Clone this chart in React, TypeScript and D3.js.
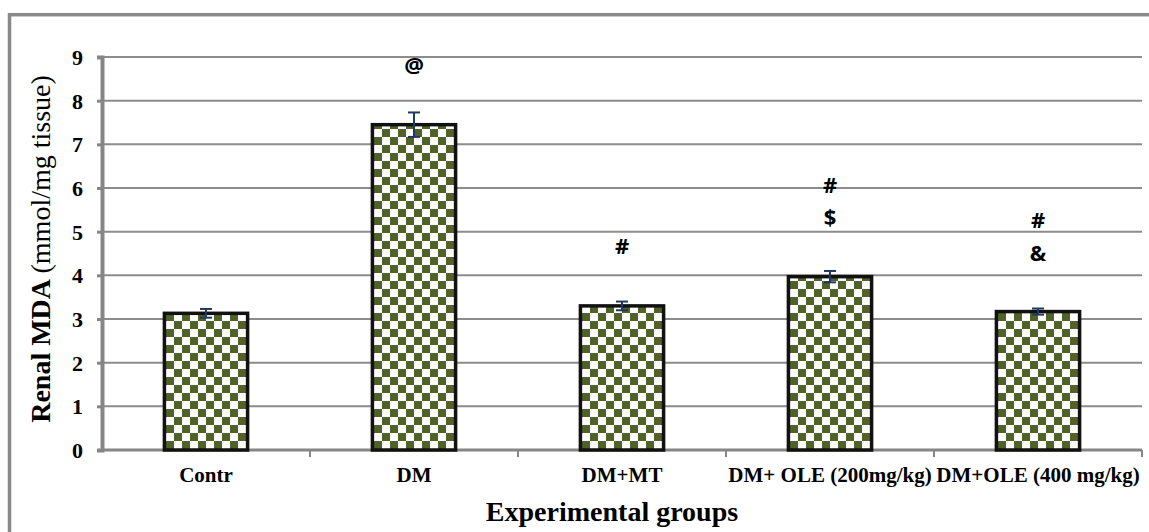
import { useEffect, useRef } from "react";
import * as d3 from "d3";

const groups = ["Contr", "DM", "DM+MT", "DM+ OLE (200mg/kg)", "DM+OLE (400 mg/kg)"];
const means = [3.13, 7.45, 3.3, 3.97, 3.17];
const errors = [0.1, 0.28, 0.1, 0.13, 0.07];
const marks = [[], ["@"], ["#"], ["#", "$"], ["#", "&"]];
// baseline of each significance mark, in axis units
const markLevels = [[], [8.63], [4.49], [5.88, 5.15], [5.08, 4.33]];
const yTicks = [0, 1, 2, 3, 4, 5, 6, 7, 8, 9];

const serif = "'Liberation Serif', 'Times New Roman', serif";

const App = () => {
  const svgRef = useRef<SVGSVGElement>(null);

  useEffect(() => {
    const W = 1149, H = 532;
    const margin = { top: 57, right: 7, bottom: 82, left: 102 };
    const width = W - margin.left - margin.right;
    const height = H - margin.top - margin.bottom;

    const svg = d3.select(svgRef.current);
    svg.selectAll("*").remove();
    svg.attr("width", W).attr("height", H);

    // checker fill
    const defs = svg.append("defs");
    const pat = defs.append("pattern")
      .attr("id", "checker")
      .attr("patternUnits", "userSpaceOnUse")
      .attr("width", 16).attr("height", 16);
    pat.append("rect").attr("width", 16).attr("height", 16).attr("fill", "#ffffff");
    pat.append("rect").attr("width", 8).attr("height", 8).attr("fill", "#4f6228");
    pat.append("rect").attr("x", 8).attr("y", 8).attr("width", 8).attr("height", 8).attr("fill", "#4f6228");

    svg.append("rect").attr("width", W).attr("height", H).attr("fill", "#fff");
    // outer border (right/bottom fall outside the picture)
    svg.append("rect")
      .attr("x", 9.5).attr("y", 14.7)
      .attr("width", W + 20).attr("height", H + 20)
      .attr("fill", "none").attr("stroke", "#898989").attr("stroke-width", 3.5);

    const g = svg.append("g").attr("transform", `translate(${margin.left},${margin.top})`);

    const x = d3.scaleBand().domain(groups).range([0, width]).paddingInner(0.6).paddingOuter(0.3);
    const xb = d3.scaleBand().domain(groups).range([0, width]);
    const y = d3.scaleLinear().domain([0, 9]).range([height, 0]);

    // gridlines
    g.append("g").selectAll("line").data(yTicks.slice(1)).enter().append("line")
      .attr("x1", 0).attr("x2", width)
      .attr("y1", d => y(d)).attr("y2", d => y(d))
      .attr("stroke", "#8c8c8c").attr("stroke-width", 2);

    // y axis
    const yAxis = d3.axisLeft(y).tickValues(yTicks).tickSize(5).tickPadding(14).tickFormat(d3.format("d"));
    const ya = g.append("g").call(yAxis);
    ya.attr("font-family", serif).attr("font-size", 22);
    ya.select(".domain").attr("stroke", "#868686").attr("stroke-width", 4);
    ya.selectAll(".tick line").attr("stroke", "#868686").attr("stroke-width", 3);
    ya.selectAll(".tick text")
      .attr("fill", "#000")
      .attr("dy", "0.34em")
      .attr("font-weight", "bold");

    // x axis
    const xa = g.append("g").attr("transform", `translate(0,${height})`);
    xa.append("line").attr("x1", 0).attr("x2", width).attr("y1", 0).attr("y2", 0)
      .attr("stroke", "#868686").attr("stroke-width", 3);
    xa.selectAll(".xt").data(groups).enter().append("line")
      .attr("x1", d => (xb(d) as number) + xb.bandwidth()).attr("x2", d => (xb(d) as number) + xb.bandwidth())
      .attr("y1", 0).attr("y2", 7)
      .attr("stroke", "#868686").attr("stroke-width", 2);
    xa.selectAll(".xl").data(groups).enter().append("text")
      .attr("x", d => (xb(d) as number) + xb.bandwidth() / 2)
      .attr("y", 32)
      .attr("text-anchor", "middle")
      .attr("font-family", serif)
      .attr("font-weight", "bold").attr("font-size", 21)
      .text(d => d);

    // bars
    g.selectAll(".bar").data(groups).enter().append("rect")
      .attr("x", d => x(d) as number)
      .attr("y", (d, i) => y(means[i]))
      .attr("width", x.bandwidth())
      .attr("height", (d, i) => height - y(means[i]))
      .attr("fill", "url(#checker)")
      .attr("stroke", "#111").attr("stroke-width", 3.5);

    // error bars
    const eb = g.selectAll(".err").data(groups).enter().append("g")
      .attr("stroke", "#1f3864").attr("stroke-width", 2);
    eb.append("line")
      .attr("x1", d => (x(d) as number) + x.bandwidth() / 2)
      .attr("x2", d => (x(d) as number) + x.bandwidth() / 2)
      .attr("y1", (d, i) => y(means[i] + errors[i]))
      .attr("y2", (d, i) => y(means[i] - errors[i]));
    [1, -1].forEach(s => {
      eb.append("line")
        .attr("x1", d => (x(d) as number) + x.bandwidth() / 2 - 6)
        .attr("x2", d => (x(d) as number) + x.bandwidth() / 2 + 6)
        .attr("y1", (d, i) => y(means[i] + s * errors[i]))
        .attr("y2", (d, i) => y(means[i] + s * errors[i]));
    });

    // significance marks
    groups.forEach((grp, i) => {
      marks[i].forEach((m, j) => {
        g.append("text")
          .attr("x", (x(grp) as number) + x.bandwidth() / 2)
          .attr("y", y(markLevels[i][j]))
          .attr("text-anchor", "middle")
          .attr("font-family", "'Open Sans', 'DejaVu Sans', sans-serif")
          .attr("font-weight", "bold").attr("font-size", 22)
          .text(m);
      });
    });

    // titles
    svg.append("text")
      .attr("x", 612).attr("y", 521)
      .attr("text-anchor", "middle")
      .attr("font-family", serif)
      .attr("font-weight", "bold").attr("font-size", 28)
      .text("Experimental groups");

    const yt = svg.append("text")
      .attr("transform", `translate(50,249) rotate(-90)`)
      .attr("text-anchor", "middle")
      .attr("font-family", serif)
      .attr("font-size", 28);
    yt.append("tspan").attr("font-weight", "bold").text("Renal MDA ");
    yt.append("tspan").text("(mmol/mg tissue)");
  }, []);

  return <svg ref={svgRef} style={{ position: "absolute", left: 0, top: 0, display: "block" }}></svg>;
};

export default App;
